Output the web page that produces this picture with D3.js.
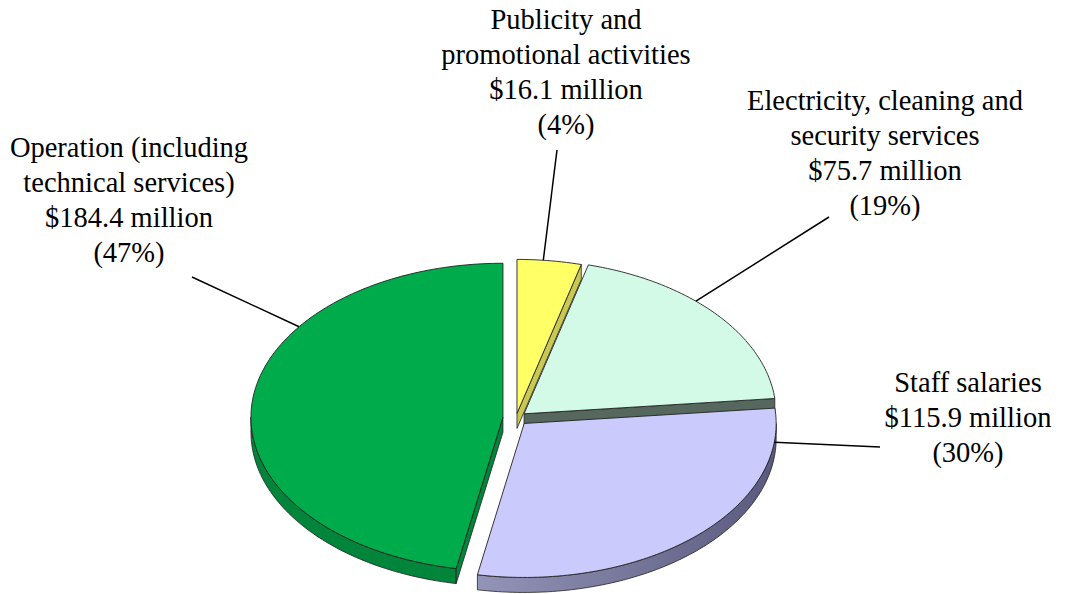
<!DOCTYPE html>
<html>
<head>
<meta charset="utf-8">
<script src="https://cdn.jsdelivr.net/npm/d3@7"></script>
<style>
  html, body { margin: 0; padding: 0; background: #fff; }
  svg { display: block; }
</style>
</head>
<body>
<svg id="chart" width="1087" height="594"></svg>
<script>
// data
const categories = [
  "Publicity and promotional activities",
  "Electricity, cleaning and security services",
  "Staff salaries",
  "Operation (including technical services)"
];
const labelLines = [
  ["Publicity and", "promotional activities"],
  ["Electricity, cleaning and", "security services"],
  ["Staff salaries"],
  ["Operation (including", "technical services)"]
];
const values = [16.1, 75.7, 115.9, 184.4]; // $ million

// style
const topColors = ["#ffff66", "#d2fae6", "#cacafc", "#00ab4c"];
const sideColors = ["#c8c852", "#56675e", "#7a7aa0", "#00853a"];
const explode = [0.03, 0.042, 0.048, 0.052];
const leaderAngle = [6, 43, 97, 306];       // deg, where the leader touches the rim
const labelPos = [[566, 19], [885, 100], [968, 382], [129, 147]]; // centre x, first line y
const leaderFrom = [[557, 150], [829, 217], [880, 447], [192, 277]];

const cx = 516, cy = 418, rx = 252, ry = 154, depth = 15, lineH = 35;

const svg = d3.select("#chart");
const defs = svg.append("defs");
const grad = defs.append("linearGradient").attr("id", "staffSide")
  .attr("x1", "0%").attr("x2", "100%");
grad.append("stop").attr("offset", "0%").attr("stop-color", "#9494b8");
grad.append("stop").attr("offset", "100%").attr("stop-color", "#5a5a7e");

const total = d3.sum(values);
const pie = d3.pie().sort(null).value(d => d)
  .startAngle(0).endAngle(2 * Math.PI);
const arcs = pie(values).map((a, i) => {
  const mid = (a.startAngle + a.endAngle) / 2;
  return {
    i, a0: a.startAngle, a1: a.endAngle, mid,
    ox: cx + explode[i] * rx * Math.sin(mid),
    oy: cy - explode[i] * ry * Math.cos(mid)
  };
});

const px = (s, t, dz = 0) => [s.ox + rx * Math.sin(t), s.oy - ry * Math.cos(t) + dz];
const rim = (s, t0, t1, dz = 0) => {
  const n = Math.max(2, Math.ceil(Math.abs(t1 - t0) / 0.02));
  return d3.range(n + 1).map(k => px(s, t0 + (t1 - t0) * k / n, dz));
};
const line = d3.line();

// back-to-front order
const order = arcs.slice().sort((a, b) => Math.cos(b.mid) - Math.cos(a.mid));

const g = svg.append("g");
order.forEach(s => {
  const sg = g.append("g");
  // outer wall, front half only
  const w0 = Math.max(s.a0, Math.PI / 2), w1 = Math.min(s.a1, 3 * Math.PI / 2);
  if (w1 > w0) {
    const pts = rim(s, w0, w1).concat(rim(s, w1, w0, depth));
    sg.append("path").attr("d", line(pts) + "Z")
      .attr("fill", s.i === 2 ? "url(#staffSide)" : sideColors[s.i])
      .attr("stroke", "#222").attr("stroke-width", 0.8);
  }
  // radial cut faces facing the viewer
  [[s.a0, s.a0 - Math.PI / 2], [s.a1, s.a1 + Math.PI / 2]].forEach(([t, n]) => {
    if (Math.cos(n) < -1e-6) {
      const pts = [[s.ox, s.oy], px(s, t), px(s, t, depth), [s.ox, s.oy + depth]];
      sg.append("path").attr("d", line(pts) + "Z")
        .attr("fill", sideColors[s.i])
        .attr("stroke", "#222").attr("stroke-width", 0.8);
    }
  });
  // top face
  const top = [[s.ox, s.oy]].concat(rim(s, s.a0, s.a1));
  sg.append("path").attr("d", line(top) + "Z")
    .attr("fill", topColors[s.i])
    .attr("stroke", "#222").attr("stroke-width", 0.9).attr("stroke-linejoin", "round");
});

// leaders
arcs.forEach(s => {
  const end = px(s, leaderAngle[s.i] * Math.PI / 180);
  svg.append("line")
    .attr("x1", leaderFrom[s.i][0]).attr("y1", leaderFrom[s.i][1])
    .attr("x2", end[0]).attr("y2", end[1])
    .attr("stroke", "#000").attr("stroke-width", 1.5);
});

// labels: one text element per line
const fmtPct = d3.format(".0%");
const fmtVal = d3.format(".1f");
arcs.forEach(s => {
  const lines = labelLines[s.i].concat([
    "$" + fmtVal(values[s.i]) + " million",
    "(" + fmtPct(values[s.i] / total) + ")"
  ]);
  svg.append("g").selectAll("text")
    .data(lines)
    .join("text")
    .attr("font-family", "Liberation Serif")
    .attr("font-size", 28.5)
    .attr("fill", "#000")
    .attr("text-anchor", "middle")
    .attr("x", labelPos[s.i][0])
    .attr("y", (d, k) => labelPos[s.i][1] + k * lineH + 10)
    .text(d => d);
});
</script>
</body>
</html>
